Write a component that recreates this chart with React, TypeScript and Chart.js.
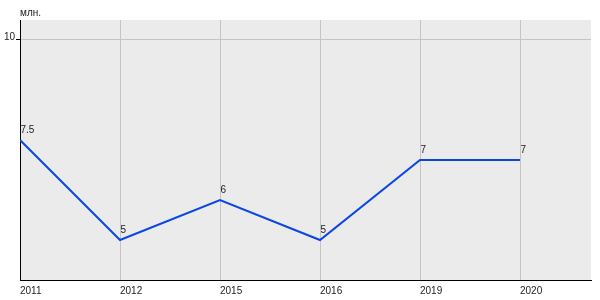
import React, { useEffect, useRef } from "react";
import { Chart, registerables } from "chart.js";

Chart.register(...registerables);

const categories = ["2011", "2012", "2015", "2016", "2019", "2020"];
const values = [7.5, 5, 6, 5, 7, 7];
const valueLabels = ["7.5", "5", "6", "5", "7", "7"];
const yTicks = [10];
const unitLabel = "млн.";

const FONT = "Arial, 'Liberation Sans', sans-serif";

const labelPlugin = {
  id: "labelPlugin",
  beforeDraw(chart: any) {
    const { ctx, chartArea } = chart;
    ctx.save();
    ctx.fillStyle = "#ebebeb";
    ctx.fillRect(chartArea.left, chartArea.top, chartArea.right - chartArea.left, chartArea.bottom - chartArea.top);
    ctx.restore();
  },
  afterDatasetsDraw(chart: any) {
    const { ctx, chartArea } = chart;
    const meta = chart.getDatasetMeta(0);
    ctx.save();
    ctx.font = "10px " + FONT;
    ctx.fillStyle = "#222";
    ctx.textAlign = "left";
    ctx.textBaseline = "alphabetic";
    meta.data.forEach((pt: any, i: number) => {
      ctx.fillText(valueLabels[i], pt.x + 0.5, pt.y - 7);
    });
    ctx.fillText(unitLabel, chartArea.left, chartArea.top - 4);
    ctx.restore();
  },
};

export default function App() {
  const ref = useRef<HTMLCanvasElement>(null);
  useEffect(() => {
    document.body.style.margin = "0";
    const chart = new Chart(ref.current!, {
      type: "line",
      data: {
        datasets: [
          {
            data: values.map((v, i) => ({ x: i, y: v })),
            borderColor: "#0a46e6",
            borderWidth: 2,
            pointRadius: 0,
            fill: false,
            tension: 0,
          },
        ],
      },
      options: {
        animation: false,
        responsive: false,
        maintainAspectRatio: false,
        layout: { padding: { left: 0, top: 20, right: 9, bottom: 0 } },
        plugins: { legend: { display: false }, tooltip: { enabled: false }, title: { display: false } },
        scales: {
          x: {
            type: "linear",
            min: 0,
            max: 5.71,
            afterBuildTicks: (s: any) => {
              s.ticks = categories.map((_, i) => ({ value: i }));
            },
            afterFit: (s: any) => {
              s.height = 20;
            },
            ticks: {
              autoSkip: false,
              maxRotation: 0,
              align: "start",
              padding: 5,
              color: "#222",
              font: { family: FONT, size: 10 },
              callback: (v: any) => categories[v] ?? "",
            },
            grid: { color: "#c4c4c4", lineWidth: 1, drawTicks: false },
            border: { color: "#000", width: 1 },
          },
          y: {
            type: "linear",
            min: 4,
            max: 10.5,
            afterBuildTicks: (s: any) => {
              s.ticks = yTicks.map((v) => ({ value: v }));
            },
            afterFit: (s: any) => {
              s.width = 20;
            },
            ticks: {
              padding: 1,
              labelOffset: -3,
              color: "#222",
              font: { family: FONT, size: 10 },
              callback: (v: any) => String(v),
            },
            grid: { color: "#c4c4c4", lineWidth: 1, tickLength: 4, tickColor: "#000" },
            border: { color: "#000", width: 1 },
          },
        },
      },
      plugins: [labelPlugin],
    });
    return () => chart.destroy();
  }, []);
  return <canvas ref={ref} width={600} height={300} style={{ display: "block", width: 600, height: 300 }} />;
}
